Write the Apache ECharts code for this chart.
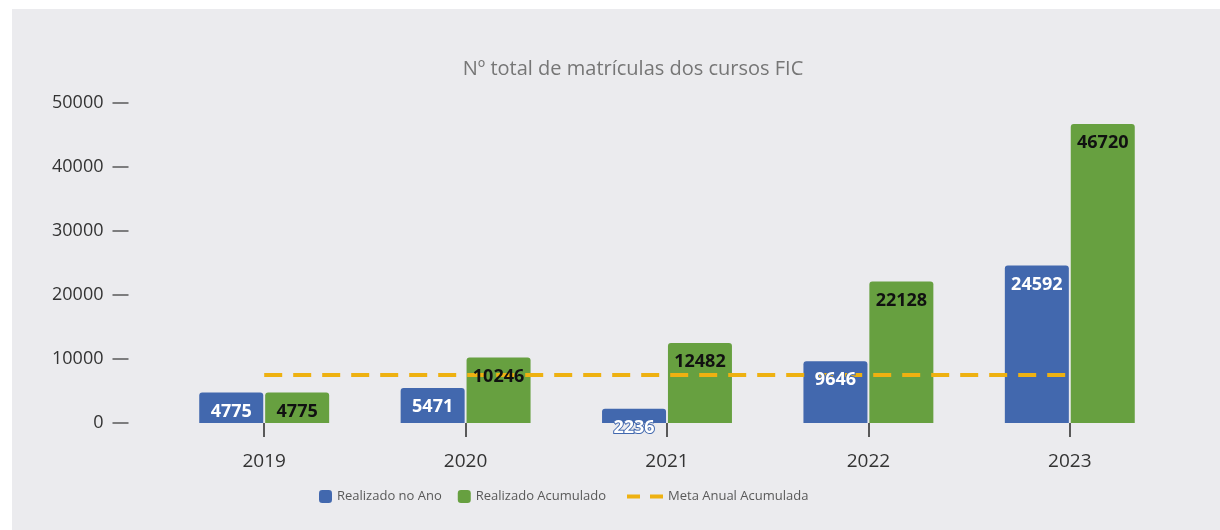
<!DOCTYPE html>
<html>
<head>
<meta charset="utf-8">
<script src="https://cdn.jsdelivr.net/npm/echarts@6/dist/echarts.min.js"></script>
<style>
  html, body { margin: 0; padding: 0; background: #ffffff; }
  #chart { position: absolute; left: 12px; top: 9px; width: 1208px; height: 521px; }
</style>
</head>
<body>
<div id="chart"></div>
<script>
  // dados
  const anos = ['2019', '2020', '2021', '2022', '2023']
  const realizadoAno = [4775, 5471, 2236, 9646, 24592]
  const realizadoAcumulado = [4775, 10246, 12482, 22128, 46720]
  const metaAnual = [7500, 7500, 7500, 7500, 7500]

  const azul = '#4268ae'
  const verde = '#67a040'
  const laranja = '#eeb111'
  const cinza = '#595959'
  const fonte = '"Open Sans", "Noto Sans", sans-serif'

  const chart = echarts.init(document.getElementById('chart'))

  const rotulo = {
    show: true,
    position: 'insideTop',
    distance: 10,
    fontSize: 18,
    fontWeight: 'bold',
    fontFamily: fonte
  }

  const option = {
    backgroundColor: '#ebebee',
    textStyle: { fontFamily: fonte },
    title: {
      text: 'Nº total de matrículas dos cursos FIC',
      left: 616,
      textAlign: 'center',
      top: 45,
      textStyle: { color: '#767676', fontSize: 20, fontWeight: 'normal', fontFamily: fonte }
    },
    legend: [
      {
        data: ['Realizado no Ano', 'Realizado Acumulado'],
        left: 302,
        top: 476,
        itemWidth: 13,
        itemHeight: 13,
        itemGap: 16,
        textStyle: { color: cinza, fontSize: 13, fontFamily: fonte }
      },
      {
        data: [{ name: 'Meta Anual Acumulada', icon: 'path://M0,0h13v4h-13z M23,0h13v4h-13z' }],
        left: 610,
        top: 476,
        itemWidth: 36,
        itemHeight: 4,
        textStyle: { color: cinza, fontSize: 13, fontFamily: fonte }
      }
    ],
    grid: { left: 151.5, right: 49.5, top: 94, bottom: 107 },
    xAxis: [
      {
        type: 'category',
        data: anos,
        axisLine: { show: false },
        axisTick: { show: true, alignWithLabel: true, length: 14, lineStyle: { color: cinza, width: 2 } },
        axisLabel: { color: '#333', fontSize: 19, margin: 29, fontFamily: fonte }
      },
      {
        // eixo oculto só para os rótulos ficarem acima da linha tracejada
        type: 'category',
        data: anos,
        show: false
      }
    ],
    yAxis: {
      type: 'value',
      min: 0,
      max: 50000,
      interval: 10000,
      offset: 35,
      splitLine: { show: false },
      axisLine: { show: false },
      axisTick: { show: true, length: 16, lineStyle: { color: cinza, width: 1.5 } },
      axisLabel: { color: '#333', fontSize: 18, margin: 25, fontFamily: fonte, formatter: v => String(v) }
    },
    series: [
      {
        name: 'Realizado no Ano',
        type: 'bar',
        data: realizadoAno,
        barWidth: 64,
        barGap: '3%',
        itemStyle: { color: azul, borderRadius: [3, 3, 0, 0] },
        z: 2
      },
      {
        name: 'Realizado Acumulado',
        type: 'bar',
        data: realizadoAcumulado,
        barWidth: 64,
        itemStyle: { color: verde, borderRadius: [3, 3, 0, 0] },
        z: 2
      },
      {
        name: 'Meta Anual Acumulada',
        type: 'line',
        data: metaAnual,
        symbol: 'none',
        itemStyle: { color: laranja },
        lineStyle: { color: laranja, width: 4, type: [18, 11] },
        z: 3
      },
      {
        name: 'rotulo-ano',
        type: 'bar',
        xAxisIndex: 1,
        data: realizadoAno,
        barWidth: 64,
        barGap: '3%',
        itemStyle: { color: 'rgba(0,0,0,0)' },
        label: Object.assign({}, rotulo, { color: '#ffffff', textBorderColor: azul, textBorderWidth: 2 }),
        silent: true,
        z: 4
      },
      {
        name: 'rotulo-acumulado',
        type: 'bar',
        xAxisIndex: 1,
        data: realizadoAcumulado,
        barWidth: 64,
        itemStyle: { color: 'rgba(0,0,0,0)' },
        label: Object.assign({}, rotulo, { color: '#111111' }),
        silent: true,
        z: 4
      }
    ]
  }

  chart.setOption(option)
</script>
</body>
</html>
